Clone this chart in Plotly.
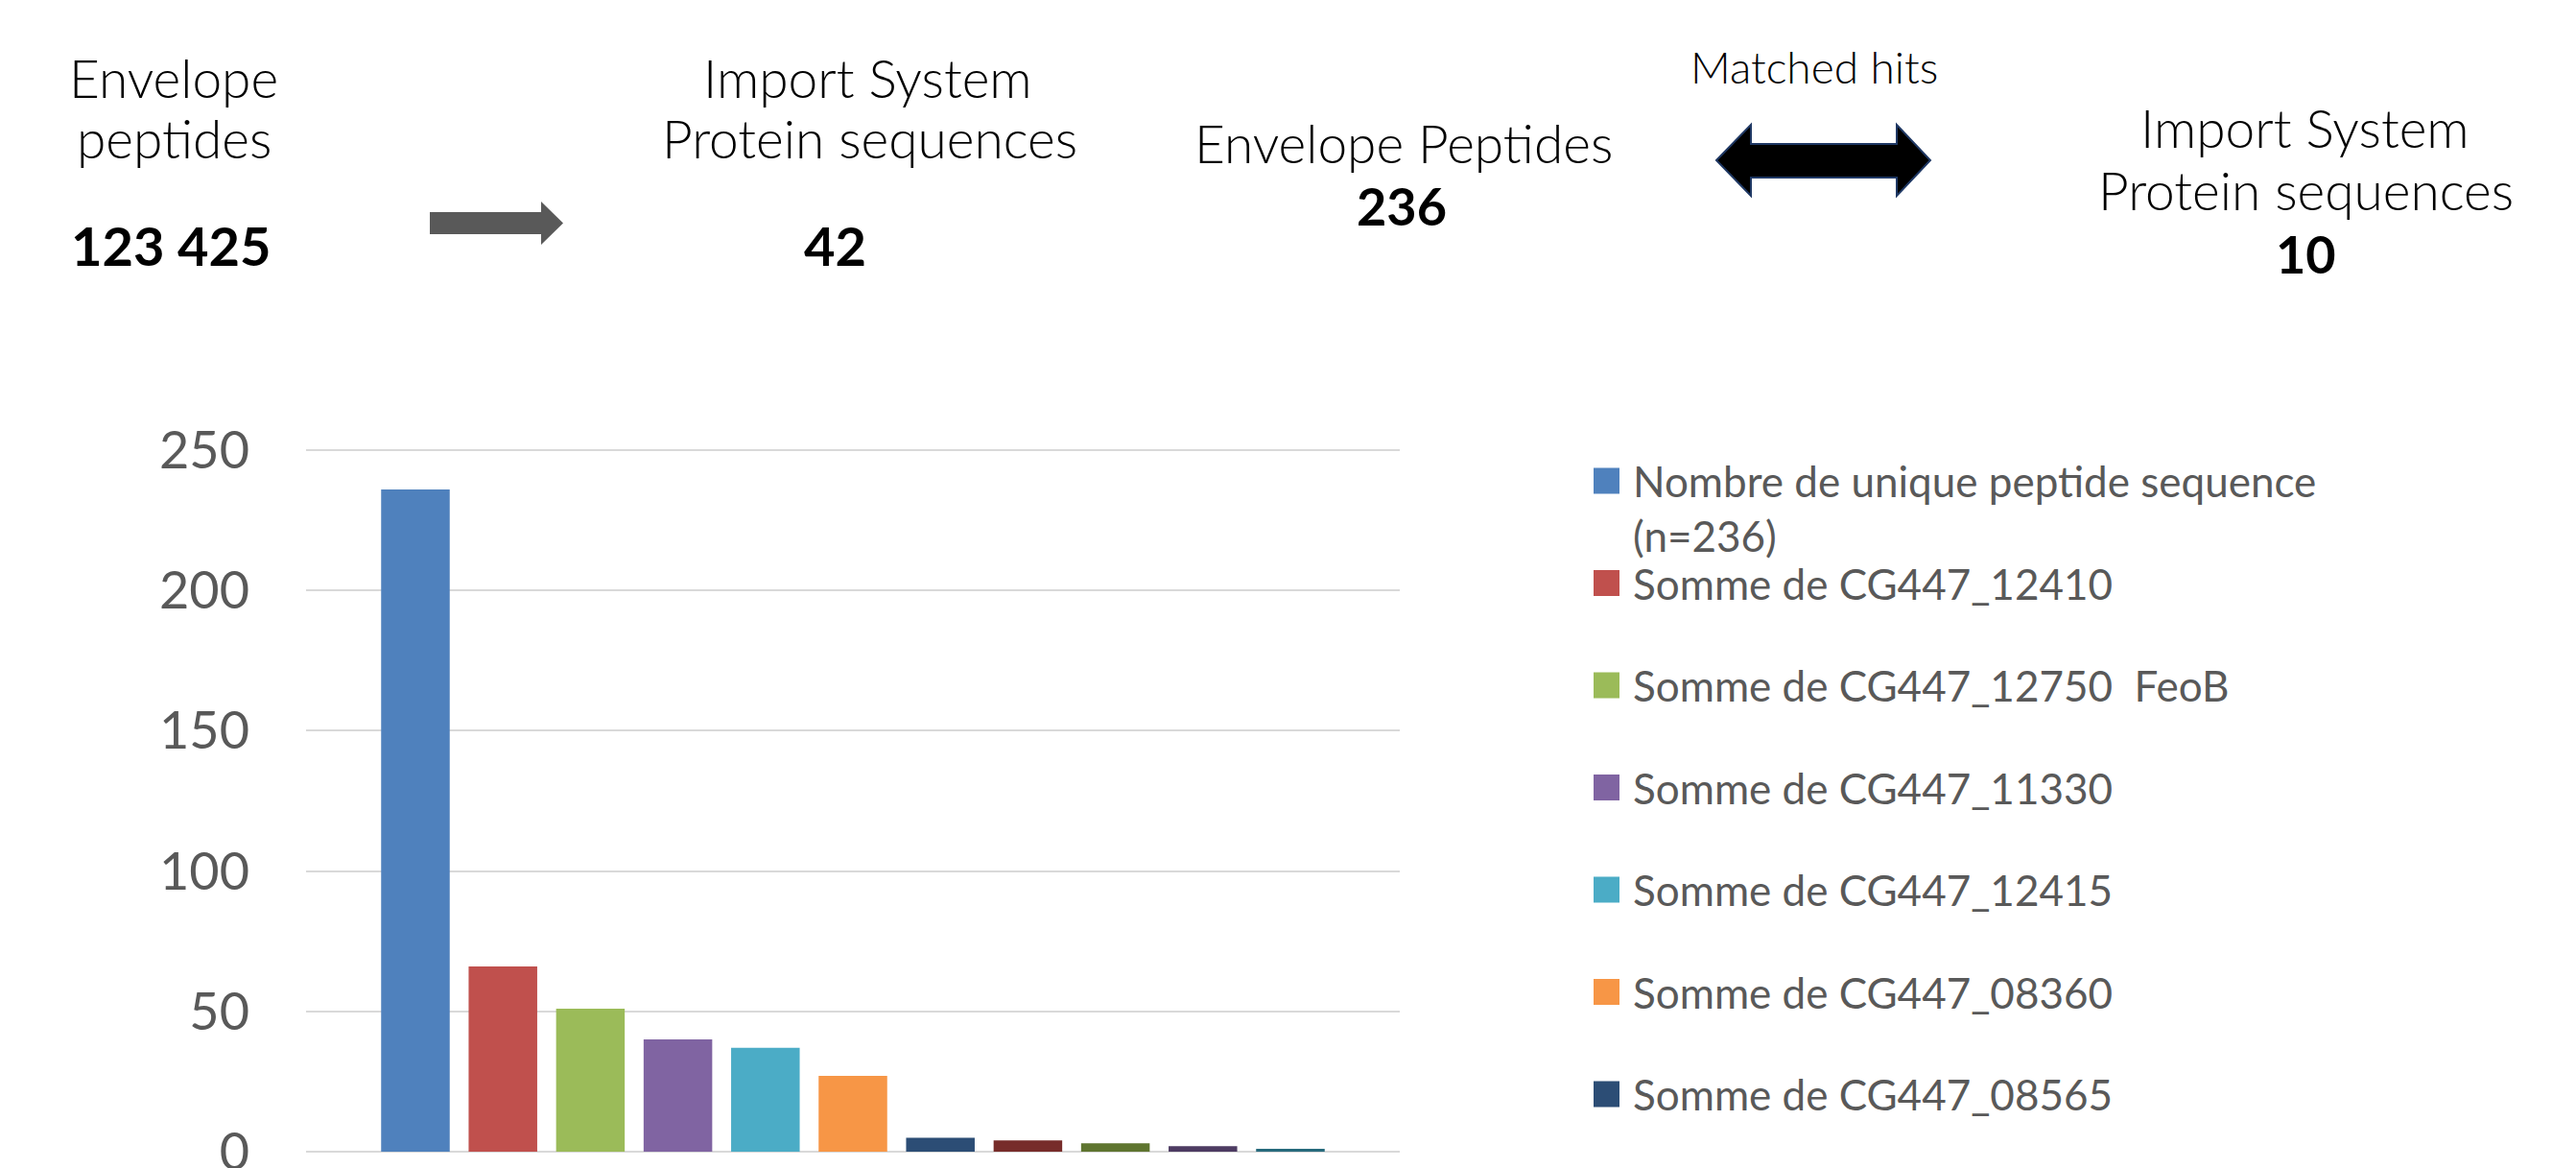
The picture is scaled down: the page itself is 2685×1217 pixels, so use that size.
import plotly.graph_objects as go

W, H = 2685, 1217
OFF = 8  # page body margin of the exported html

# ---------------- data ----------------
series_names = [
    "Nombre de unique peptide sequence (n=236)",
    "Somme de CG447_12410",
    "Somme de CG447_12750  FeoB",
    "Somme de CG447_11330",
    "Somme de CG447_12415",
    "Somme de CG447_08360",
    "Somme de CG447_08565",
    "Série 8",
    "Série 9",
    "Série 10",
    "Série 11",
]
series_values = [236, 66, 51, 40, 37, 27, 5, 4, 3, 2, 1]
series_colors = ["#4F81BD", "#C0504D", "#9BBB59", "#8064A2", "#4BACC6", "#F79646",
                 "#2C4D75", "#772C2A", "#5F7530", "#4D3B62", "#276A7C"]
legend_labels = [
    "Nombre de unique peptide sequence<br>(n=236)",
    "Somme de CG447_12410",
    "Somme de CG447_12750  FeoB",
    "Somme de CG447_11330",
    "Somme de CG447_12415",
    "Somme de CG447_08360",
    "Somme de CG447_08565",
]
category = ["Total"]
y_ticks = [0, 50, 100, 150, 200, 250]

# header texts
left_title = ["Envelope", "peptides"]
left_count = "123 425"
mid_title = ["Import System", "Protein sequences"]
mid_count = "42"
env_title = "Envelope Peptides"
env_count = "236"
match_label = "Matched hits"
right_title = ["Import System", "Protein sequences"]
right_count = "10"


def px(x):
    return (x - OFF) / W


def py(y):
    return 1 - (y - OFF) / H


FONT = "Lato, 'Open Sans', sans-serif"
GRAY = "#595959"

fig = go.Figure()
for name, val, col in zip(series_names, series_values, series_colors):
    fig.add_trace(go.Bar(x=category, y=[val], name=name, marker=dict(color=col, line=dict(width=0)),
                         showlegend=False))

# plot area: x 319..1459, y 469 (250) .. 1200 (0); range padded slightly so the 250 grid line shows
Y_TOP = 250.4
unit = (1200 - 469) / 250.0
top_px = 1200 - Y_TOP * unit

fig.update_layout(
    width=W, height=H, autosize=False,
    margin=dict(l=0, r=0, t=0, b=0, autoexpand=False),
    paper_bgcolor="white", plot_bgcolor="white",
    barmode="group", bargap=0.12, bargroupgap=0.216,
    showlegend=False,
    xaxis=dict(domain=[px(319), px(1459)], showticklabels=False, showgrid=False,
               zeroline=False, showline=False, ticks="", automargin=False),
    yaxis=dict(domain=[py(1200), py(top_px)], range=[0, Y_TOP], tickvals=y_ticks,
               showgrid=True, gridcolor="#D9D9D9", gridwidth=2,
               zeroline=True, zerolinecolor="#D9D9D9", zerolinewidth=2,
               showline=False, ticks="", ticklabelstandoff=58, automargin=False,
               ticklabeloverflow="allow",
               tickfont=dict(family=FONT, size=54, color=GRAY)),
)

annotations = []


def add_text(text, x, y, size, bold=False, color="black", xanchor="center", weight=None):
    annotations.append(dict(
        text=text, x=px(x), y=py(y), xref="paper", yref="paper",
        xanchor=xanchor, yanchor="middle", showarrow=False,
        font=dict(family=FONT, size=size, color=color,
                  weight=(700 if bold else (weight if weight else 400))),
    ))


# header text blocks
add_text(left_title[0], 181, 81, 55, weight=300)
add_text(left_title[1], 181, 144, 55, weight=300)
add_text(left_count, 178, 256, 56, bold=True)
add_text(mid_title[0], 904, 81, 55, weight=300)
add_text(mid_title[1], 906, 144, 55, weight=300)
add_text(mid_count, 870, 256, 56, bold=True)
add_text(env_title, 1463, 149, 55, weight=300)
add_text(env_count, 1461, 214, 54, bold=True)
add_text(match_label, 1891, 69, 46, weight=300)
add_text(right_title[0], 2402, 133, 55, weight=300)
add_text(right_title[1], 2403, 198, 55, weight=300)
add_text(right_count, 2403, 264, 54, bold=True)

shapes = []
# gray single arrow
shapes.append(dict(
    type="path", xref="paper", yref="paper",
    path=(f"M {px(448)},{py(221)} L {px(564)},{py(221)} L {px(564)},{py(210)} "
          f"L {px(587)},{py(232.5)} L {px(564)},{py(255)} L {px(564)},{py(244)} "
          f"L {px(448)},{py(244)} Z"),
    fillcolor=GRAY, line=dict(width=0),
))
# black double arrow
shapes.append(dict(
    type="path", xref="paper", yref="paper",
    path=(f"M {px(1789)},{py(167)} L {px(1825)},{py(130)} L {px(1825)},{py(150)} "
          f"L {px(1977)},{py(150)} L {px(1977)},{py(130)} L {px(2012)},{py(167)} "
          f"L {px(1977)},{py(204)} L {px(1977)},{py(185)} L {px(1825)},{py(185)} "
          f"L {px(1825)},{py(204)} Z"),
    fillcolor="black", line=dict(color="#1F3864", width=2),
))

# manual legend (first 7 series, as in the reference)
for i, (label, col) in enumerate(zip(legend_labels, series_colors)):
    yc = 501 + i * 106.5
    shapes.append(dict(type="rect", xref="paper", yref="paper",
                       x0=px(1661), x1=px(1688), y0=py(yc - 13.5), y1=py(yc + 13.5),
                       fillcolor=col, line=dict(width=0)))
    for j, line in enumerate(label.split("<br>")):
        add_text(line, 1700, yc + j * 57, 44, color=GRAY, xanchor="left")

fig.update_layout(annotations=annotations, shapes=shapes)
fig.write_html("out.html")
